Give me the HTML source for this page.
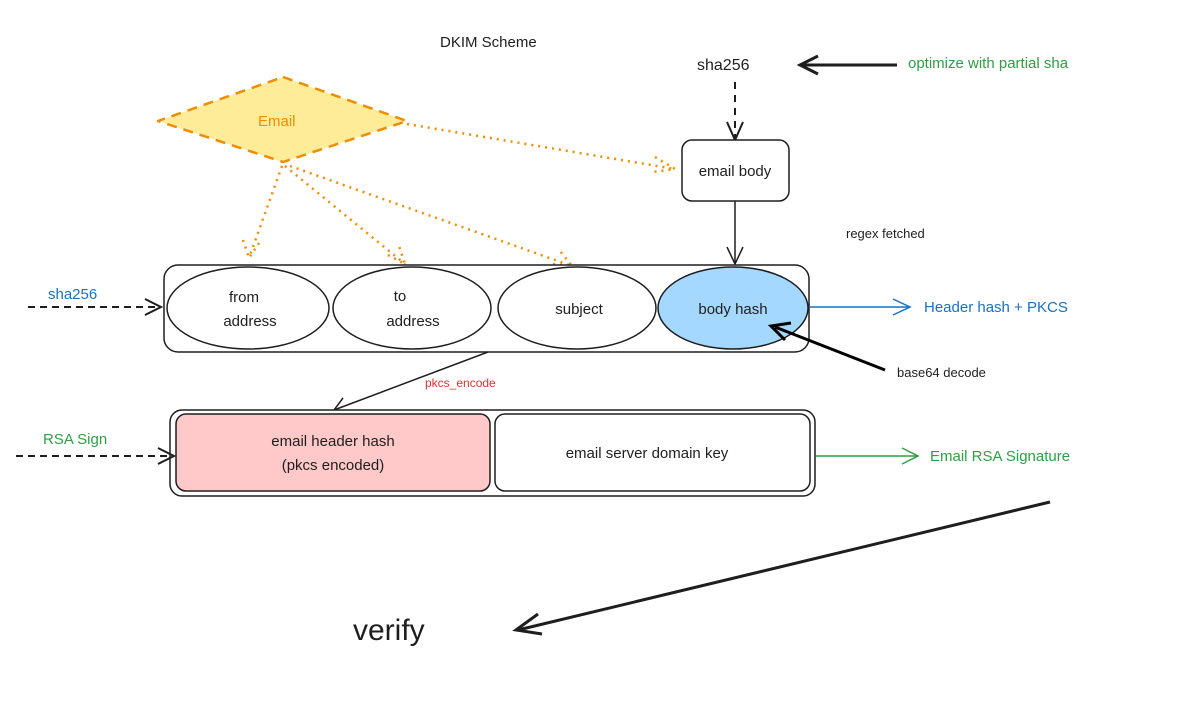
<!DOCTYPE html>
<html><head><meta charset="utf-8"><style>
html,body{margin:0;padding:0;background:#fff;}
svg{display:block;}
text{font-family:"Liberation Sans",sans-serif;}
</style></head><body>
<svg width="1192" height="719" viewBox="0 0 1192 719" xmlns="http://www.w3.org/2000/svg">
<rect width="1192" height="719" fill="#fff"/>
<text x="440" y="47" font-size="15" fill="#1e1e1e">DKIM Scheme</text>

<text x="697" y="70" font-size="16" fill="#1e1e1e">sha256</text>
<line x1="897" y1="65" x2="800" y2="65" stroke="#1e1e1e" stroke-width="3"/>
<polyline points="818,56 800,65 818,74" fill="none" stroke="#1e1e1e" stroke-width="3"/>
<text x="908" y="68" font-size="15" fill="#2f9e44">optimize with partial sha</text>

<line x1="735" y1="82" x2="735" y2="138" stroke="#1e1e1e" stroke-width="2" stroke-dasharray="7,6"/>
<polyline points="727,122 735,140 743,122" fill="none" stroke="#1e1e1e" stroke-width="2"/>

<polygon points="283,77 407,121 283,162 158,121" fill="#ffec99" stroke="#f08c00" stroke-width="2.5" stroke-dasharray="10,7" stroke-linejoin="round"/>
<text x="258" y="126" font-size="15" fill="#f08c00">Email</text>

<g stroke="#f08c00" stroke-width="2.5" stroke-dasharray="2,5" fill="none">
<line x1="407" y1="124" x2="675" y2="169"/>
<polyline points="655,157 675,169 653,172"/>
<line x1="282" y1="166" x2="249" y2="258"/>
<polyline points="243,240 249,258 259,243"/>
<line x1="285" y1="166" x2="405" y2="264"/>
<polyline points="388,255 405,264 399,246"/>
<line x1="290" y1="166" x2="572" y2="266"/>
<polyline points="553,264 572,266 560,251"/>
</g>

<rect x="682" y="140" width="107" height="61" rx="10" fill="#fff" stroke="#1e1e1e" stroke-width="1.5"/>
<text x="735" y="176" font-size="15" fill="#1e1e1e" text-anchor="middle">email body</text>
<line x1="735" y1="201" x2="735" y2="264" stroke="#1e1e1e" stroke-width="1.5"/>
<polyline points="727,247 735,264 743,247" fill="none" stroke="#1e1e1e" stroke-width="1.5"/>

<text x="846" y="238" font-size="13" fill="#1e1e1e">regex fetched</text>

<rect x="164" y="265" width="645" height="87" rx="14" fill="#fff" stroke="#1e1e1e" stroke-width="1.5"/>
<ellipse cx="248" cy="308" rx="81" ry="41" fill="#fff" stroke="#1e1e1e" stroke-width="1.5"/>
<ellipse cx="412" cy="308" rx="79" ry="41" fill="#fff" stroke="#1e1e1e" stroke-width="1.5"/>
<ellipse cx="577" cy="308" rx="79" ry="41" fill="#fff" stroke="#1e1e1e" stroke-width="1.5"/>
<ellipse cx="733" cy="308" rx="75" ry="41" fill="#a5d8ff" stroke="#1e1e1e" stroke-width="1.5"/>
<text x="244" y="302" font-size="15" fill="#1e1e1e" text-anchor="middle">from</text>
<text x="250" y="326" font-size="15" fill="#1e1e1e" text-anchor="middle">address</text>
<text x="400" y="301" font-size="15" fill="#1e1e1e" text-anchor="middle">to</text>
<text x="413" y="326" font-size="15" fill="#1e1e1e" text-anchor="middle">address</text>
<text x="579" y="314" font-size="15" fill="#1e1e1e" text-anchor="middle">subject</text>
<text x="733" y="314" font-size="15" fill="#1e1e1e" text-anchor="middle">body hash</text>

<text x="48" y="299" font-size="15" fill="#1971c2">sha256</text>
<line x1="28" y1="307" x2="160" y2="307" stroke="#1e1e1e" stroke-width="2" stroke-dasharray="7,5"/>
<polyline points="145,299 161,307 145,315" fill="none" stroke="#1e1e1e" stroke-width="2"/>

<line x1="810" y1="307" x2="910" y2="307" stroke="#1971c2" stroke-width="1.5"/>
<polyline points="893,299 910,307 893,315" fill="none" stroke="#1971c2" stroke-width="1.5"/>
<text x="924" y="312" font-size="15" fill="#1971c2">Header hash + PKCS</text>

<line x1="885" y1="370" x2="775" y2="327" stroke="#000" stroke-width="3"/>
<polyline points="785,340 771,326 791,323" fill="none" stroke="#000" stroke-width="3"/>
<text x="897" y="377" font-size="13" fill="#1e1e1e">base64 decode</text>

<line x1="488" y1="352" x2="334" y2="410" stroke="#1e1e1e" stroke-width="1.5"/>
<polyline points="343,398 334,410 349,412" fill="none" stroke="#1e1e1e" stroke-width="1.5"/>
<text x="425" y="387" font-size="12" fill="#e03131">pkcs_encode</text>

<rect x="170" y="410" width="645" height="86" rx="12" fill="#fff" stroke="#1e1e1e" stroke-width="1.5"/>
<rect x="176" y="414" width="314" height="77" rx="10" fill="#ffc9c9" stroke="#1e1e1e" stroke-width="1.5"/>
<rect x="495" y="414" width="315" height="77" rx="10" fill="#fff" stroke="#1e1e1e" stroke-width="1.5"/>
<text x="333" y="446" font-size="15" fill="#1e1e1e" text-anchor="middle">email header hash</text>
<text x="333" y="470" font-size="15" fill="#1e1e1e" text-anchor="middle">(pkcs encoded)</text>
<text x="647" y="458" font-size="15" fill="#1e1e1e" text-anchor="middle">email server domain key</text>

<text x="43" y="444" font-size="15" fill="#2f9e44">RSA Sign</text>
<line x1="16" y1="456" x2="172" y2="456" stroke="#1e1e1e" stroke-width="2" stroke-dasharray="7,5"/>
<polyline points="158,448 174,456 158,464" fill="none" stroke="#1e1e1e" stroke-width="2"/>

<line x1="816" y1="456" x2="918" y2="456" stroke="#2f9e44" stroke-width="1.5"/>
<polyline points="902,448 918,456 902,464" fill="none" stroke="#2f9e44" stroke-width="1.5"/>
<text x="930" y="461" font-size="15" fill="#2f9e44">Email RSA Signature</text>

<line x1="1050" y1="502" x2="518" y2="630" stroke="#1e1e1e" stroke-width="3"/>
<polyline points="538,614 516,630 542,634" fill="none" stroke="#1e1e1e" stroke-width="3"/>
<text x="353" y="640" font-size="30" fill="#1e1e1e">verify</text>
</svg>
</body></html>
